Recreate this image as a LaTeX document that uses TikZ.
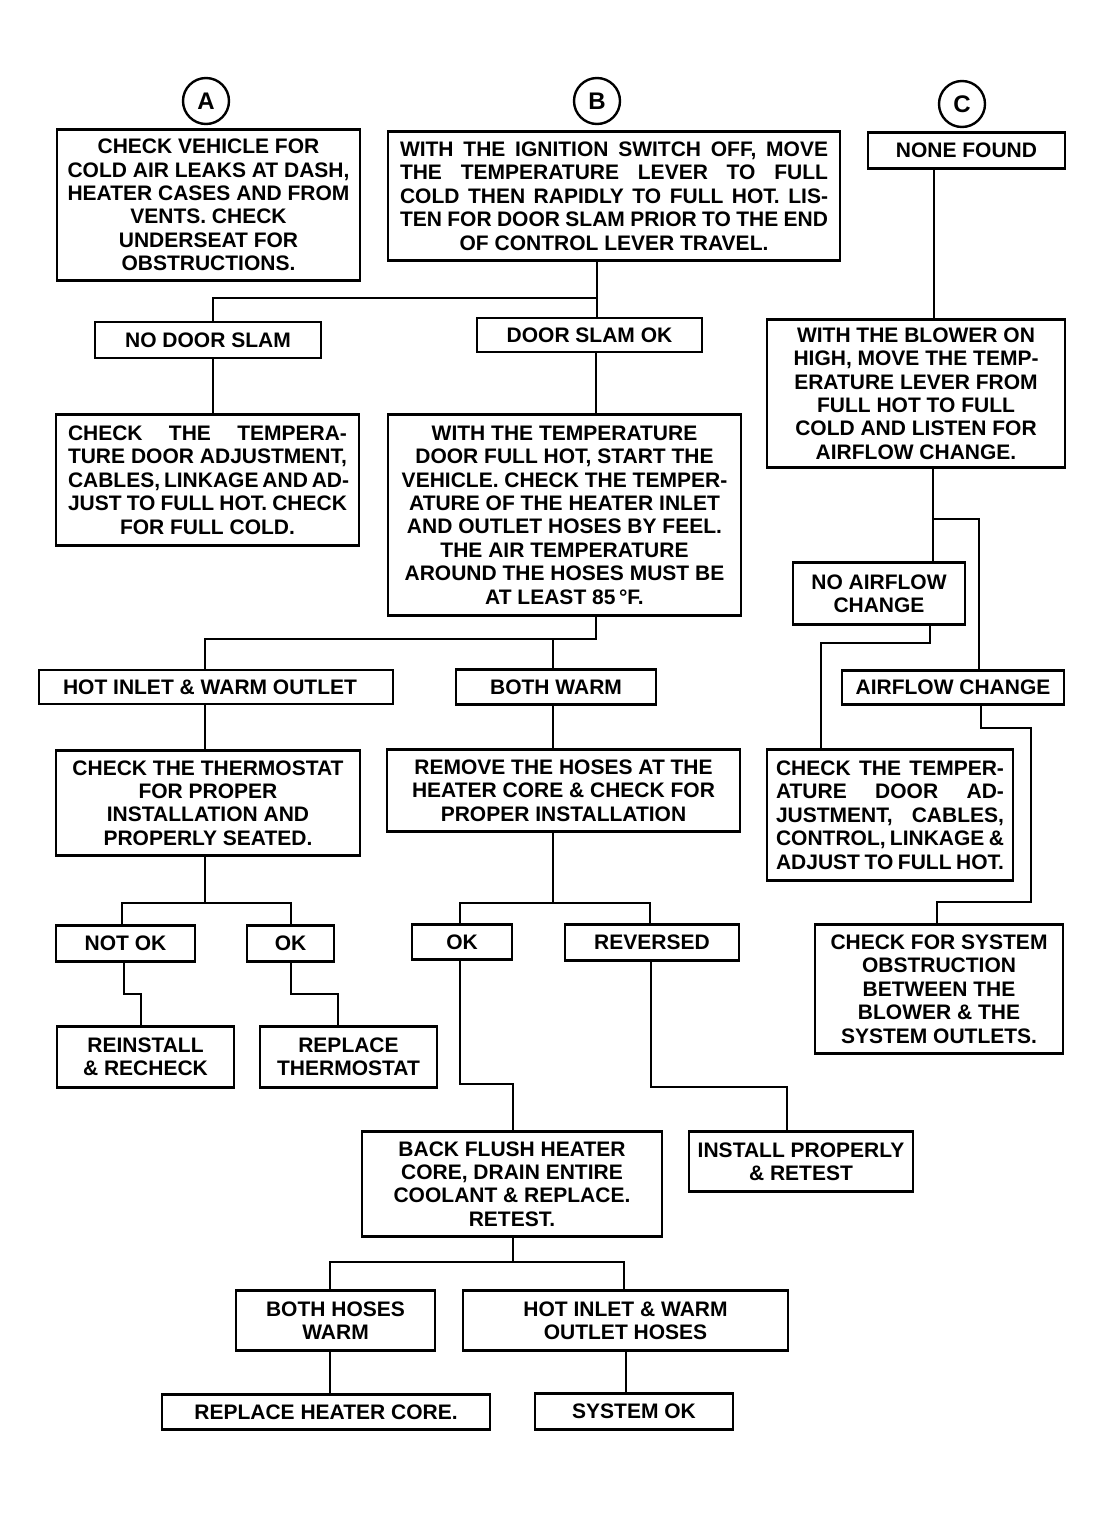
\documentclass[tikz,border=0pt]{standalone}
\usepackage{fontspec}
\setmainfont{Liberation Sans}
\tikzset{
 box/.style={draw, line width=2.4pt, inner sep=0pt, align=center, font=\bfseries\fontsize{21}{23.4}\selectfont},
 lbl/.style={draw, circle, line width=2.4pt, minimum size=46pt, inner sep=0pt, font=\bfseries\fontsize{24}{26}\selectfont},
 conn/.style={line width=2.4pt},
}
\newcommand{\jl}[2]{\makebox[#1pt][s]{#2}}
\begin{document}
\begin{tikzpicture}[x=1pt,y=-1pt]
\useasboundingbox (0,0) rectangle (1104,1521);
% circles
\node[lbl] (cA) at (206,101) {A};
\node[lbl] (cB) at (597,101) {B};
\node[lbl] (cC) at (962,104) {C};
% column A
\node[box, minimum width=303pt, minimum height=151pt] (A1) at (208.5,205)
 {CHECK VEHICLE FOR\\COLD AIR LEAKS AT DASH,\\HEATER CASES AND FROM\\VENTS. CHECK\\UNDERSEAT FOR\\OBSTRUCTIONS.};
% column B
\node[box, minimum width=452pt, minimum height=129pt] (B1) at (614,196)
 {\jl{428}{WITH THE IGNITION SWITCH OFF, MOVE}\\\jl{428}{THE TEMPERATURE LEVER TO FULL}\\\jl{428}{COLD THEN RAPIDLY TO FULL HOT. LIS-}\\\jl{428}{TEN FOR DOOR SLAM PRIOR TO THE END}\\OF CONTROL LEVER TRAVEL.};
\node[box, minimum width=226pt, minimum height=36pt] (NDS) at (208,340) {NO DOOR SLAM};
\node[box, minimum width=225pt, minimum height=34pt] (DSO) at (589.5,335) {DOOR SLAM OK};
\node[box, minimum width=303pt, minimum height=131pt] (A2) at (207.5,480)
 {\jl{279}{CHECK THE TEMPERA-}\\\jl{279}{TURE DOOR ADJUSTMENT,}\\\jl{279}{CABLES, LINKAGE AND AD-}\\\jl{279}{JUST TO FULL HOT. CHECK}\\FOR FULL COLD.};
\node[box, minimum width=353pt, minimum height=201pt] (B2) at (564.5,515)
 {WITH THE TEMPERATURE\\DOOR FULL HOT, START THE\\VEHICLE. CHECK THE TEMPER-\\ATURE OF THE HEATER INLET\\AND OUTLET HOSES BY FEEL.\\THE AIR TEMPERATURE\\AROUND THE HOSES MUST BE\\AT LEAST 85\,°F.};
\node[box, minimum width=354pt, minimum height=34pt] (HI) at (216,687) {\hspace*{-12pt}HOT INLET \& WARM OUTLET};
\node[box, minimum width=200pt, minimum height=35pt] (BW) at (556,687) {BOTH WARM};
\node[box, minimum width=304pt, minimum height=105pt] (TH) at (208,803)
 {CHECK THE THERMOSTAT\\FOR PROPER\\INSTALLATION AND\\PROPERLY SEATED.};
\node[box, minimum width=353pt, minimum height=82pt] (RM) at (563.5,790.5)
 {REMOVE THE HOSES AT THE\\HEATER CORE \& CHECK FOR\\PROPER INSTALLATION};
\node[box, minimum width=139pt, minimum height=36pt] (NOK) at (125.5,943.5) {NOT OK};
\node[box, minimum width=87pt, minimum height=36pt] (OK1) at (290.5,943.5) {OK};
\node[box, minimum width=100pt, minimum height=35pt] (OK2) at (462,942) {OK};
\node[box, minimum width=174pt, minimum height=36pt] (REV) at (652,942.5) {REVERSED};
\node[box, minimum width=177pt, minimum height=61pt] (RI) at (145.5,1057) {REINSTALL\\\& RECHECK};
\node[box, minimum width=177pt, minimum height=61pt] (RT) at (348.5,1057) {REPLACE\\THERMOSTAT};
\node[box, minimum width=300pt, minimum height=105pt] (BF) at (512,1184)
 {BACK FLUSH HEATER\\CORE, DRAIN ENTIRE\\COOLANT \& REPLACE.\\RETEST.};
\node[box, minimum width=224pt, minimum height=60pt] (IN) at (801,1161.5) {INSTALL PROPERLY\\\& RETEST};
\node[box, minimum width=199pt, minimum height=60pt] (BH) at (335.5,1320.5) {BOTH HOSES\\WARM};
\node[box, minimum width=325pt, minimum height=60pt] (HIH) at (625.5,1320.5) {HOT INLET \& WARM\\OUTLET HOSES};
\node[box, minimum width=328pt, minimum height=35pt] (RC) at (326,1412) {REPLACE HEATER CORE.};
\node[box, minimum width=198pt, minimum height=36pt] (SOK) at (634,1411.5) {SYSTEM OK};
% column C
\node[box, minimum width=197pt, minimum height=36pt] (NF) at (966.5,150.5) {NONE FOUND};
\node[box, minimum width=298pt, minimum height=148pt] (BL) at (916,393.5)
 {WITH THE BLOWER ON\\HIGH, MOVE THE TEMP-\\ERATURE LEVER FROM\\FULL HOT TO FULL\\COLD AND LISTEN FOR\\AIRFLOW CHANGE.};
\node[box, minimum width=172pt, minimum height=62pt] (NA) at (879,593.5) {NO AIRFLOW\\CHANGE};
\node[box, minimum width=222pt, minimum height=34pt] (AC) at (953,687.5) {AIRFLOW CHANGE};
\node[box, minimum width=246pt, minimum height=131pt] (CT) at (890,815)
 {\jl{228}{CHECK THE TEMPER-}\\\jl{228}{ATURE DOOR AD-}\\\jl{228}{JUSTMENT, CABLES,}\\\jl{228}{CONTROL, LINKAGE \&}\\\jl{228}{ADJUST TO FULL HOT.}};
\node[box, minimum width=248pt, minimum height=129pt] (SYS) at (939,989)
 {CHECK FOR SYSTEM\\OBSTRUCTION\\BETWEEN THE\\BLOWER \& THE\\SYSTEM OUTLETS.};
% connectors
\draw[conn] (597,0 |- B1.south) -- (597,0 |- DSO.north);
\draw[conn] (597,298) -| (213,0 |- NDS.north);
\draw[conn] (213,0 |- NDS.south) -- (213,0 |- A2.north);
\draw[conn] (596,0 |- DSO.south) -- (596,0 |- B2.north);
\draw[conn] (596,0 |- B2.south) -- (596,639) -| (205,0 |- HI.north);
\draw[conn] (553,639) -- (553,0 |- BW.north);
\draw[conn] (205,0 |- HI.south) -- (205,0 |- TH.north);
\draw[conn] (205,0 |- TH.south) -- (205,903);
\draw[conn] (122,0 |- NOK.north) |- (291,903) -- (291,0 |- OK1.north);
\draw[conn] (124,0 |- NOK.south) |- (141,994) -- (141,0 |- RI.north);
\draw[conn] (291,0 |- OK1.south) |- (338,994) -- (338,0 |- RT.north);
\draw[conn] (553,0 |- BW.south) -- (553,0 |- RM.north);
\draw[conn] (553,0 |- RM.south) -- (553,903);
\draw[conn] (460,0 |- OK2.north) |- (650,903) -- (650,0 |- REV.north);
\draw[conn] (460,0 |- OK2.south) |- (513,1084) -- (513,0 |- BF.north);
\draw[conn] (651,0 |- REV.south) |- (787,1087) -- (787,0 |- IN.north);
\draw[conn] (513,0 |- BF.south) -- (513,1262);
\draw[conn] (330,0 |- BH.north) |- (624,1262) -- (624,0 |- HIH.north);
\draw[conn] (330,0 |- BH.south) -- (330,0 |- RC.north);
\draw[conn] (626,0 |- HIH.south) -- (626,0 |- SOK.north);
\draw[conn] (934,0 |- NF.south) -- (934,0 |- BL.north);
\draw[conn] (933,0 |- BL.south) -- (933,0 |- NA.north);
\draw[conn] (933,519) -| (979,0 |- AC.north);
\draw[conn] (930,0 |- NA.south) |- (821,643) -- (821,0 |- CT.north);
\draw[conn] (981,0 |- AC.south) |- (1031,728) -- (1031,902) -| (937,0 |- SYS.north);
\end{tikzpicture}
\end{document}
